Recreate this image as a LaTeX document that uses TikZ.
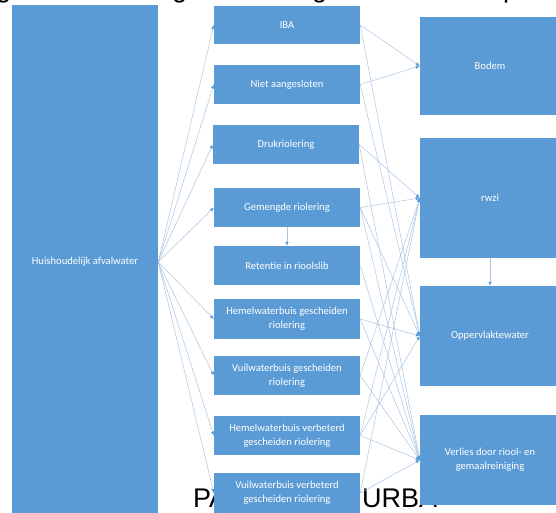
\documentclass[tikz,border=0pt]{standalone}
\usepackage{fontspec}
\setmainfont{Carlito}
\newfontfamily\arialfont{Liberation Sans}
\usetikzlibrary{arrows.meta}
\definecolor{boxblue}{HTML}{5B9BD5}
\definecolor{linkblue}{HTML}{A9C4E4}
\begin{document}
\begin{tikzpicture}[x=1pt,y=-1pt,
  box/.style={draw=none, fill=boxblue, text=white, font=\fontsize{10.6}{14}\selectfont, align=center, inner sep=0pt, minimum width=146pt, minimum height=39pt},
  rbox/.style={box, minimum width=140pt},
  big/.style={font=\arialfont\fontsize{27}{27}\selectfont, text=black, anchor=base west, inner sep=0pt},
  conn/.style={draw=linkblue, line width=0.5pt, -{Latex[length=4pt,width=3.5pt,color=boxblue]}},
]
\useasboundingbox (0,0) rectangle (556,513);
% partially visible black text (behind the boxes)
\node[big] (ta) at (-4,-2) {g};
\node[big] (tb) at (172,-2) {g};
\node[big] (tc) at (312,-2) {g};
\node[big] (td) at (503,-2) {p};
\node[big] (pa) at (193,507) {PA};
\node[big] (urba) at (362,507) {URBA};
% left box
\node[box, minimum height=513pt] (L) at (85,262) {Huishoudelijk afvalwater};
% middle column
\node[box, minimum height=38pt] (iba) at (287,25) {IBA};
\node[box] (niet) at (287,84.5) {Niet aangesloten};
\node[box] (druk) at (286,144.5) {Drukriolering};
\node[box] (gem) at (287,207.5) {Gemengde riolering};
\node[box] (ret) at (287,265.5) {Retentie in rioolslib};
\node[box, minimum height=40pt] (hg) at (287,319) {Hemelwaterbuis gescheiden\\riolering};
\node[box] (vg) at (287,375.5) {Vuilwaterbuis gescheiden\\riolering};
\node[box] (hv) at (287,435.5) {Hemelwaterbuis verbeterd\\gescheiden riolering};
\node[box, minimum height=40pt] (vv) at (287,493) {Vuilwaterbuis verbeterd\\gescheiden riolering};
% right column
\node[rbox, minimum height=98pt] (bodem) at (490,66) {Bodem};
\node[rbox, minimum height=120pt] (rwzi) at (490,198) {rwzi};
\node[rbox, minimum height=100pt] (opp) at (490,336) {Oppervlaktewater};
\node[rbox, minimum height=90pt] (verlies) at (490,460) {Verlies door riool- en\\gemaalreiniging};
% fan from the left box
\foreach \t in {iba,niet,druk,gem,hg,vg,hv,vv}
  \draw[conn] (L.east) -- (\t.west);
% vertical arrows
\draw[conn] (gem.south) -- (ret.north);
\draw[conn] (rwzi.south) -- (opp.north);
% to the right column
\draw[conn] (iba.east) -- (bodem.west);
\draw[conn] (niet.east) -- (bodem.west);
\draw[conn] (iba.east) -- (opp.west);
\draw[conn] (niet.east) -- (opp.west);
\draw[conn] (druk.east) -- (rwzi.west);
\draw[conn] (druk.east) -- (verlies.west);
\draw[conn] (gem.east) -- (rwzi.west);
\draw[conn] (gem.east) -- (opp.west);
\draw[conn] (gem.east) -- (verlies.west);
\draw[conn] (ret.east) -- (verlies.west);
\draw[conn] (hg.east) -- (opp.west);
\draw[conn] (hg.east) -- (verlies.west);
\draw[conn] (vg.east) -- (rwzi.west);
\draw[conn] (vg.east) -- (verlies.west);
\draw[conn] (hv.east) -- (rwzi.west);
\draw[conn] (hv.east) -- (opp.west);
\draw[conn] (hv.east) -- (verlies.west);
\draw[conn] (vv.east) -- (rwzi.west);
\draw[conn] (vv.east) -- (verlies.west);
\end{tikzpicture}
\end{document}
